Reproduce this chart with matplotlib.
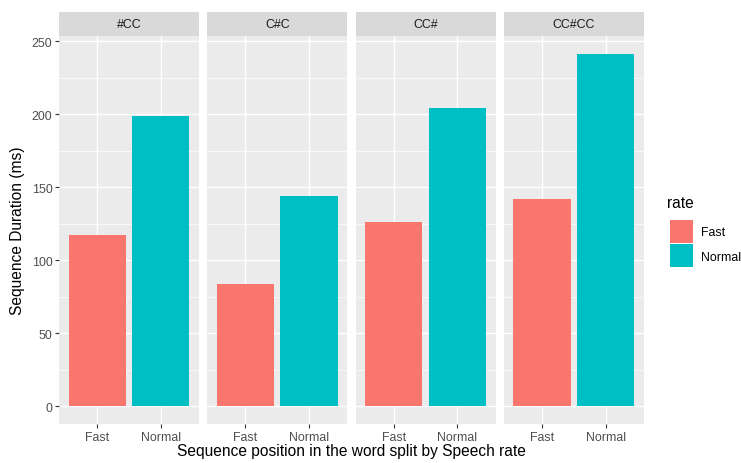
import matplotlib.pyplot as plt
from matplotlib.patches import Patch

plt.rcParams['font.family'] = ['Liberation Sans', 'DejaVu Sans']

positions = ['#CC', 'C#C', 'CC#', 'CC#CC']
rates = ['Fast', 'Normal']
fast = [117, 84, 126, 142]
normal = [199, 144, 204, 241]
colors = ['#F8766D', '#00BFC4']

fig = plt.figure(figsize=(7.41, 4.64), dpi=100)
W, H = 741, 464

left0 = 59
pw = 140
gap = 8.3
top = 37
bottom = 425
strip_h = 24

ymin, ymax = -12.1, 253.5

for i, pos in enumerate(positions):
    x0 = left0 + i * (pw + gap)
    ax = fig.add_axes([x0 / W, 1 - bottom / H, pw / W, (bottom - top) / H])
    ax.set_facecolor('#EBEBEB')
    vals = [fast[i], normal[i]]
    ax.bar([1, 2], vals, width=0.9, color=colors, zorder=3)
    ax.set_xlim(0.4, 2.6)
    ax.set_ylim(ymin, ymax)
    ax.set_xticks([1, 2])
    ax.set_xticklabels(rates)
    ax.set_yticks([0, 50, 100, 150, 200, 250])
    ax.set_yticks([25, 75, 125, 175, 225], minor=True)
    ax.grid(True, which='major', color='white', lw=1.0, zorder=0)
    ax.grid(True, which='minor', axis='y', color='white', lw=0.5, zorder=0)
    ax.set_axisbelow(True)
    for s in ax.spines.values():
        s.set_visible(False)
    ax.tick_params(axis='both', which='major', length=2.8, width=0.8, color='#333333',
                   labelcolor='#4D4D4D', labelsize=8.9, pad=2)
    ax.tick_params(axis='both', which='minor', length=0)
    if i > 0:
        ax.tick_params(axis='y', which='major', length=0, labelleft=False)
    # strip
    sax = fig.add_axes([x0 / W, 1 - top / H, pw / W, strip_h / H])
    sax.set_facecolor('#D9D9D9')
    sax.set_xticks([])
    sax.set_yticks([])
    for s in sax.spines.values():
        s.set_visible(False)
    sax.text(0.5, 0.5, pos, ha='center', va='center', fontsize=8.9, color='#1A1A1A',
             transform=sax.transAxes)

fig.text(18 / W, 1 - 231 / H, 'Sequence Duration (ms)', rotation=90, ha='center', va='center',
         fontsize=11.2, color='black')
fig.text(351 / W, 1 - 452 / H, 'Sequence position in the word split by Speech rate',
         ha='center', va='center', fontsize=11.2, color='black')

# legend
fig.text(667 / W, 1 - 204 / H, 'rate', ha='left', va='center', fontsize=11.2, color='black')
handles = [Patch(facecolor=c, edgecolor='none') for c in colors]
leg = fig.legend(handles, rates, loc='upper left',
                 bbox_to_anchor=(665 / W, 1 - 216 / H), frameon=False,
                 fontsize=8.9, handlelength=1.85, handleheight=2.5,
                 labelspacing=0.1, handletextpad=0.7, borderaxespad=0)

fig.savefig('out.png', dpi=100)
